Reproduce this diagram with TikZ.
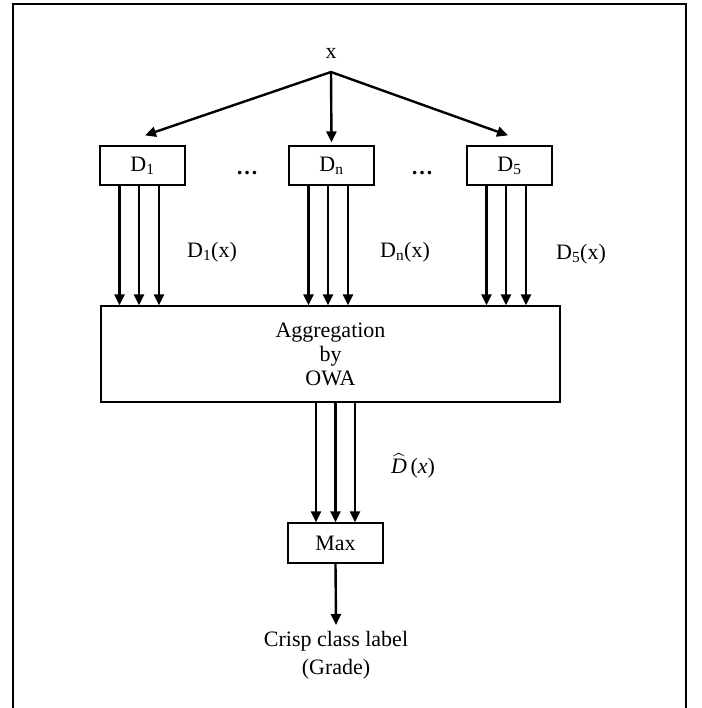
\documentclass[tikz,border=0pt]{standalone}
\usepackage{amsmath}
\usepackage{fontspec}
\setmainfont{Liberation Serif}
\usetikzlibrary{arrows.meta}

\begin{document}
\begin{tikzpicture}[
    x=1pt, y=-1pt,
    every node/.style={font=\fontsize{22}{26}\selectfont, inner sep=0pt},
    dbox/.style={draw, line width=1.2pt, minimum width=85pt, minimum height=39pt},
    arr/.style={line width=2.4pt, -{Triangle[length=11pt,width=10pt]}}
]
\useasboundingbox (0,0) rectangle (701,708);
\draw[line width=2pt] (12.5,708) -- (12.5,4) -- (686,4) -- (686,708);

\node (x) at (331,53) {x};
\coordinate (xsrc) at (331,72);

\node[dbox] (d1) at (142.5,165.5) {D\textsubscript{1}};
\node[dbox] (dn) at (331.5,165.5) {D\textsubscript{n}};
\node[dbox] (d5) at (509.5,165.5) {D\textsubscript{5}};
\node[anchor=base] (dots1) at (247,175) {\textbf{\ldots}};
\node[anchor=base] (dots2) at (422,175) {\textbf{\ldots}};

\draw[arr] (xsrc) -- ([xshift=2.5pt,yshift=10pt]d1.north);
\draw[arr] (xsrc) -- ([yshift=3pt]dn.north);
\draw[arr] (xsrc) -- ([xshift=-1.5pt,yshift=10pt]d5.north);

\node[draw, line width=1.2pt, minimum width=459pt, minimum height=96pt,
      align=center, font=\fontsize{22}{24}\selectfont] (agg) at (330.5,354)
    {Aggregation\\by\\OWA};

% three outputs of every classifier
\foreach \d in {d1,dn,d5} {
    \foreach \s in {-23,-3.5,16.5}
        \draw[arr] ([xshift=\s pt]\d.south) -- ([xshift=\s pt]\d.south |- agg.north);
}
\node (l1) at (212,252) {D\textsubscript{1}(x)};
\node (ln) at (405,252) {D\textsubscript{n}(x)};
\node (l5) at (581,254) {D\textsubscript{5}(x)};

\node[draw, line width=1.2pt, minimum width=95pt, minimum height=40pt] (max) at (335.5,543) {Max};
\foreach \s in {-19.5,0,19.5}
    \draw[arr] ([xshift=\s pt]agg.south -| max.north) -- ([xshift=\s pt]max.north);
\node (lhat) at (413,466) {$\widehat{\text{\itshape D}}$\,(\textit{x\/})};

\node[align=center, font=\fontsize{22}{28}\selectfont, anchor=north] (out) at (336,631)
    {Crisp class label\\(Grade)};
\draw[arr] (max.south) -- ([yshift=6pt]out.north);
\end{tikzpicture}
\end{document}
